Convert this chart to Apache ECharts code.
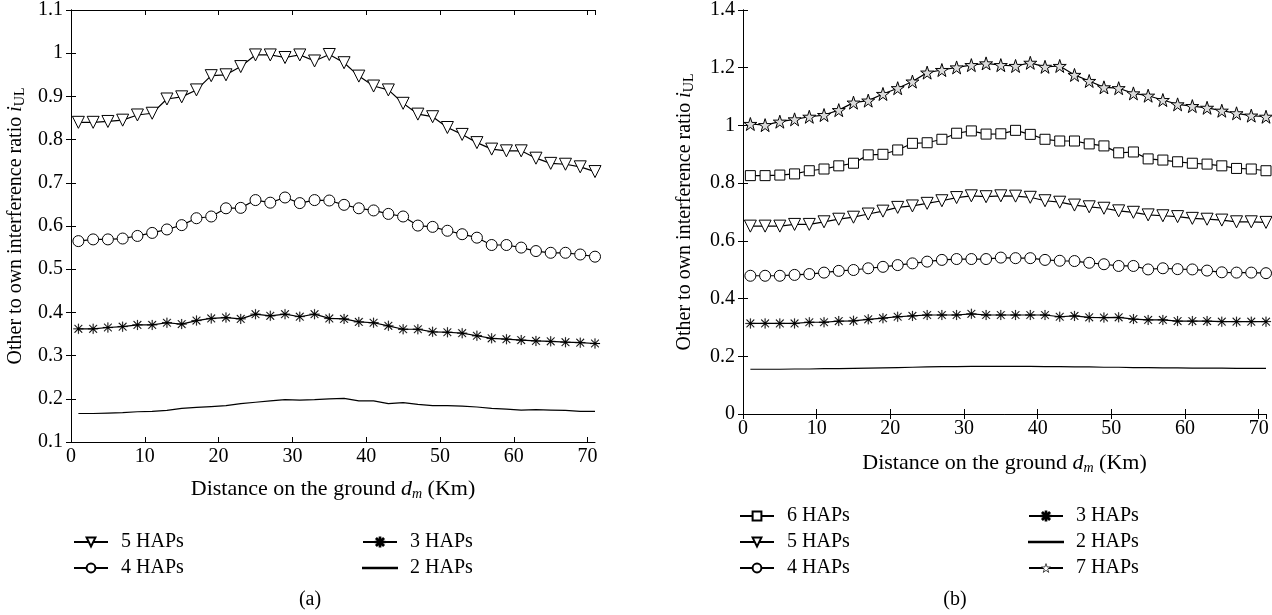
<!DOCTYPE html>
<html>
<head>
<meta charset="utf-8">
<script src="https://cdn.jsdelivr.net/npm/echarts@6/dist/echarts.min.js"></script>
<style>html,body{margin:0;padding:0;background:#fff}#c{width:1272px;height:615px}</style>
</head>
<body>
<div id="c"></div>
<script>
// distance on the ground (Km)
const distances = [1,3,5,7,9,11,13,15,17,19,21,23,25,27,29,31,33,35,37,39,41,43,45,47,49,51,53,55,57,59,61,63,65,67,69,71];
const xTicks = [0,10,20,30,40,50,60,70];
// panel (a)
const a5 = [0.840,0.840,0.842,0.845,0.857,0.861,0.894,0.899,0.915,0.948,0.950,0.969,0.996,0.996,0.990,0.996,0.982,0.997,0.978,0.947,0.924,0.915,0.884,0.859,0.853,0.828,0.812,0.793,0.778,0.774,0.774,0.757,0.745,0.743,0.737,0.726];
const a4 = [0.565,0.569,0.569,0.571,0.577,0.584,0.592,0.602,0.618,0.622,0.641,0.642,0.660,0.654,0.666,0.653,0.660,0.659,0.649,0.641,0.636,0.628,0.622,0.601,0.598,0.589,0.581,0.573,0.556,0.556,0.550,0.542,0.538,0.538,0.534,0.529];
const a3 = [0.362,0.362,0.365,0.367,0.371,0.371,0.376,0.373,0.381,0.386,0.388,0.385,0.396,0.392,0.396,0.390,0.396,0.386,0.385,0.378,0.376,0.369,0.361,0.361,0.355,0.354,0.352,0.346,0.340,0.338,0.336,0.334,0.333,0.331,0.330,0.328];
const a2 = [0.166,0.166,0.167,0.168,0.170,0.171,0.173,0.178,0.180,0.182,0.184,0.189,0.192,0.195,0.198,0.197,0.198,0.200,0.201,0.195,0.195,0.189,0.191,0.187,0.184,0.184,0.183,0.181,0.178,0.176,0.174,0.175,0.174,0.173,0.171,0.171];
// panel (b)
const b7 = [1.005,1.001,1.013,1.021,1.030,1.036,1.053,1.079,1.086,1.109,1.129,1.152,1.183,1.192,1.201,1.209,1.215,1.209,1.206,1.217,1.203,1.206,1.175,1.154,1.132,1.129,1.111,1.103,1.088,1.073,1.067,1.061,1.051,1.042,1.034,1.030];
const b6 = [0.826,0.826,0.828,0.832,0.843,0.849,0.860,0.869,0.898,0.900,0.915,0.938,0.940,0.952,0.973,0.981,0.970,0.971,0.983,0.969,0.952,0.946,0.946,0.936,0.929,0.905,0.908,0.884,0.880,0.874,0.869,0.866,0.860,0.851,0.849,0.843];
const b5 = [0.651,0.651,0.651,0.657,0.657,0.666,0.675,0.682,0.693,0.703,0.716,0.721,0.730,0.739,0.750,0.756,0.753,0.756,0.755,0.751,0.739,0.734,0.724,0.718,0.713,0.704,0.699,0.690,0.687,0.684,0.678,0.675,0.672,0.666,0.666,0.664];
const b4 = [0.479,0.479,0.479,0.482,0.485,0.490,0.496,0.499,0.505,0.510,0.516,0.522,0.528,0.534,0.537,0.537,0.537,0.542,0.540,0.540,0.534,0.531,0.530,0.524,0.519,0.513,0.513,0.501,0.505,0.502,0.501,0.497,0.491,0.490,0.490,0.488];
const b3 = [0.314,0.314,0.314,0.314,0.318,0.318,0.322,0.323,0.328,0.332,0.337,0.340,0.343,0.343,0.343,0.347,0.343,0.343,0.343,0.343,0.343,0.337,0.340,0.335,0.334,0.335,0.329,0.326,0.326,0.322,0.322,0.322,0.320,0.320,0.320,0.320];
const b2 = [0.155,0.155,0.155,0.156,0.156,0.157,0.157,0.158,0.159,0.160,0.161,0.162,0.163,0.164,0.164,0.165,0.165,0.165,0.165,0.165,0.164,0.164,0.163,0.163,0.162,0.162,0.161,0.161,0.160,0.160,0.159,0.159,0.159,0.158,0.158,0.158];
const yTicksA = [0.1,0.2,0.3,0.4,0.5,0.6,0.7,0.8,0.9,1,1.1];
const yTicksB = [0,0.2,0.4,0.6,0.8,1,1.2,1.4];

const FONT = '"Liberation Serif", "DejaVu Serif", serif';
const FS = 20;
const TRI = 'path://M0,0 L10,0 L5,9 Z';
const AST = 'path://M4.6,0 L5.4,0 L5.4,10 L4.6,10 Z M0,4.6 L10,4.6 L10,5.4 L0,5.4 Z M0.9,1.5 L1.5,0.9 L9.1,8.5 L8.5,9.1 Z M8.5,0.9 L9.1,1.5 L1.5,9.1 L0.9,8.5 Z';
const STAR = 'path://M50,0 L61.8,35.3 L99,35.3 L68.9,57.3 L80.4,92.7 L50,70.9 L19.6,92.7 L31.1,57.3 L1,35.3 L38.2,35.3 Z';
const LINEICON = 'path://M0,0 L100,0 L100,1.6 L0,1.6 Z';

const styles = {
  '7 HAPs': {symbol: STAR, size: 13, fill: '#dcdcdc'},
  '6 HAPs': {symbol: 'rect', size: 10, fill: '#fff'},
  '5 HAPs': {symbol: TRI, size: 12, fill: '#fff'},
  '4 HAPs': {symbol: 'circle', size: 11, fill: '#fff'},
  '3 HAPs': {symbol: AST, size: 10, fill: '#000'},
  '2 HAPs': {symbol: 'none', size: 0, fill: '#000'}
};

function mk(name, data, gi) {
  const s = styles[name];
  return {
    type: 'line', name: name, xAxisIndex: gi * 2, yAxisIndex: gi * 2,
    data: distances.map((d, i) => [d, data[i]]),
    symbol: s.symbol, symbolSize: s.size, showSymbol: s.symbol !== 'none',
    lineStyle: {color: '#000', width: 1.2},
    itemStyle: {color: s.fill, borderColor: '#000', borderWidth: s.symbol === AST ? 0.2 : 1},
    emphasis: {disabled: true}, animation: false, z: 3
  };
}

const fmtY = v => String(+(+v).toFixed(1));
const fmtX = v => (xTicks.indexOf(Math.round(v)) >= 0 && Math.abs(v - Math.round(v)) < 1e-6) ? String(Math.round(v)) : '';

function richName(fs) {
  return {
    t: {fontFamily: FONT, fontSize: fs, color: '#000'},
    i: {fontFamily: FONT, fontSize: fs, fontStyle: 'italic', color: '#000'},
    si: {fontFamily: FONT, fontSize: 14, fontStyle: 'italic', color: '#000', padding: [9, 0, 0, 0]},
    s: {fontFamily: FONT, fontSize: 14, color: '#000', padding: [9, 0, 0, 0]}
  };
}

function axesFor(gi, ymin, ymax, yint, xGap, yGap) {
  const lineS = {show: true, lineStyle: {color: '#000', width: 1}};
  const tick = {show: true, inside: true, length: 5, lineStyle: {color: '#000'}};
  const xs = [
    {type: 'value', gridIndex: gi, min: 0, max: 71, interval: 10, position: 'bottom',
     axisLine: lineS, axisTick: tick, splitLine: {show: false},
     axisLabel: {formatter: fmtX, color: '#000', fontFamily: FONT, fontSize: 20, margin: 5, showMaxLabel: false},
     name: '{t|Distance on the ground }{i|d}{si|m}{t| (Km)}', nameLocation: 'middle', nameGap: xGap,
     nameTextStyle: {color: '#000', fontFamily: FONT, fontSize: 22, rich: richName(22)}},
    {type: 'value', gridIndex: gi, min: 0, max: 71, interval: 10, position: 'top',
     axisLine: lineS, axisTick: tick, splitLine: {show: false}, axisLabel: {show: false}}
  ];
  const ys = [
    {type: 'value', gridIndex: gi, min: ymin, max: ymax, interval: yint, position: 'left',
     axisLine: lineS, axisTick: tick, splitLine: {show: false},
     axisLabel: {formatter: fmtY, color: '#000', fontFamily: FONT, fontSize: 20, margin: 8},
     name: '{t|Other to own interference ratio }{i|i}{s|UL}', nameLocation: 'middle', nameGap: yGap, nameRotate: 90,
     nameTextStyle: {color: '#000', fontFamily: FONT, fontSize: FS, rich: richName(FS)}},
    {type: 'value', gridIndex: gi, min: ymin, max: ymax, interval: yint, position: 'right',
     axisLine: lineS, axisTick: tick, splitLine: {show: false}, axisLabel: {show: false}}
  ];
  return {xs, ys};
}

const axA = axesFor(0, yTicksA[0], yTicksA[yTicksA.length - 1], 0.1, 36, 44);
const axB = axesFor(1, yTicksB[0], yTicksB[yTicksB.length - 1], 0.2, 38, 47);

const legendBase = {orient: 'vertical', itemWidth: 34, itemHeight: 11, selectedMode: false, itemGap: 6,
  textStyle: {color: '#000', fontFamily: FONT, fontSize: FS, padding: [0, 0, 0, 8]}};
const lg = n => n === '2 HAPs' ? {name: n, icon: LINEICON}
  : n === '7 HAPs' ? {name: n, itemStyle: {color: '#fff', borderColor: '#000', borderWidth: 0.7}}
  : {name: n};

const option = {
  backgroundColor: '#fff',
  animation: false,
  grid: [
    {left: 71, top: 10, right: 677, bottom: 173, containLabel: false},
    {left: 743, top: 10, right: 6, bottom: 201, containLabel: false}
  ],
  xAxis: [axA.xs[0], axA.xs[1], axB.xs[0], axB.xs[1]],
  yAxis: [axA.ys[0], axA.ys[1], axB.ys[0], axB.ys[1]],
  legend: [
    Object.assign({}, legendBase, {left: 68, top: 527, data: ['5 HAPs', '4 HAPs'].map(lg)}),
    Object.assign({}, legendBase, {left: 357, top: 527, data: ['3 HAPs', '2 HAPs'].map(lg)}),
    Object.assign({}, legendBase, {left: 734, top: 501, data: ['6 HAPs', '5 HAPs', '4 HAPs'].map(lg)}),
    Object.assign({}, legendBase, {left: 1023, top: 501, data: ['3 HAPs', '2 HAPs', '7 HAPs'].map(lg)})
  ],
  graphic: [
    {type: 'text', x: 310, y: 600, style: {text: '(a)', fontFamily: FONT, fontSize: FS, fill: '#000', align: 'center', verticalAlign: 'middle'}},
    {type: 'text', x: 955, y: 600, style: {text: '(b)', fontFamily: FONT, fontSize: FS, fill: '#000', align: 'center', verticalAlign: 'middle'}}
  ],
  series: [
    mk('5 HAPs', a5, 0), mk('4 HAPs', a4, 0), mk('3 HAPs', a3, 0), mk('2 HAPs', a2, 0),
    mk('6 HAPs', b6, 1), mk('5 HAPs', b5, 1), mk('4 HAPs', b4, 1), mk('3 HAPs', b3, 1), mk('2 HAPs', b2, 1), mk('7 HAPs', b7, 1)
  ]
};
const chart = echarts.init(document.getElementById('c'), null, {renderer: 'canvas'});
chart.setOption(option);
</script>
</body>
</html>
